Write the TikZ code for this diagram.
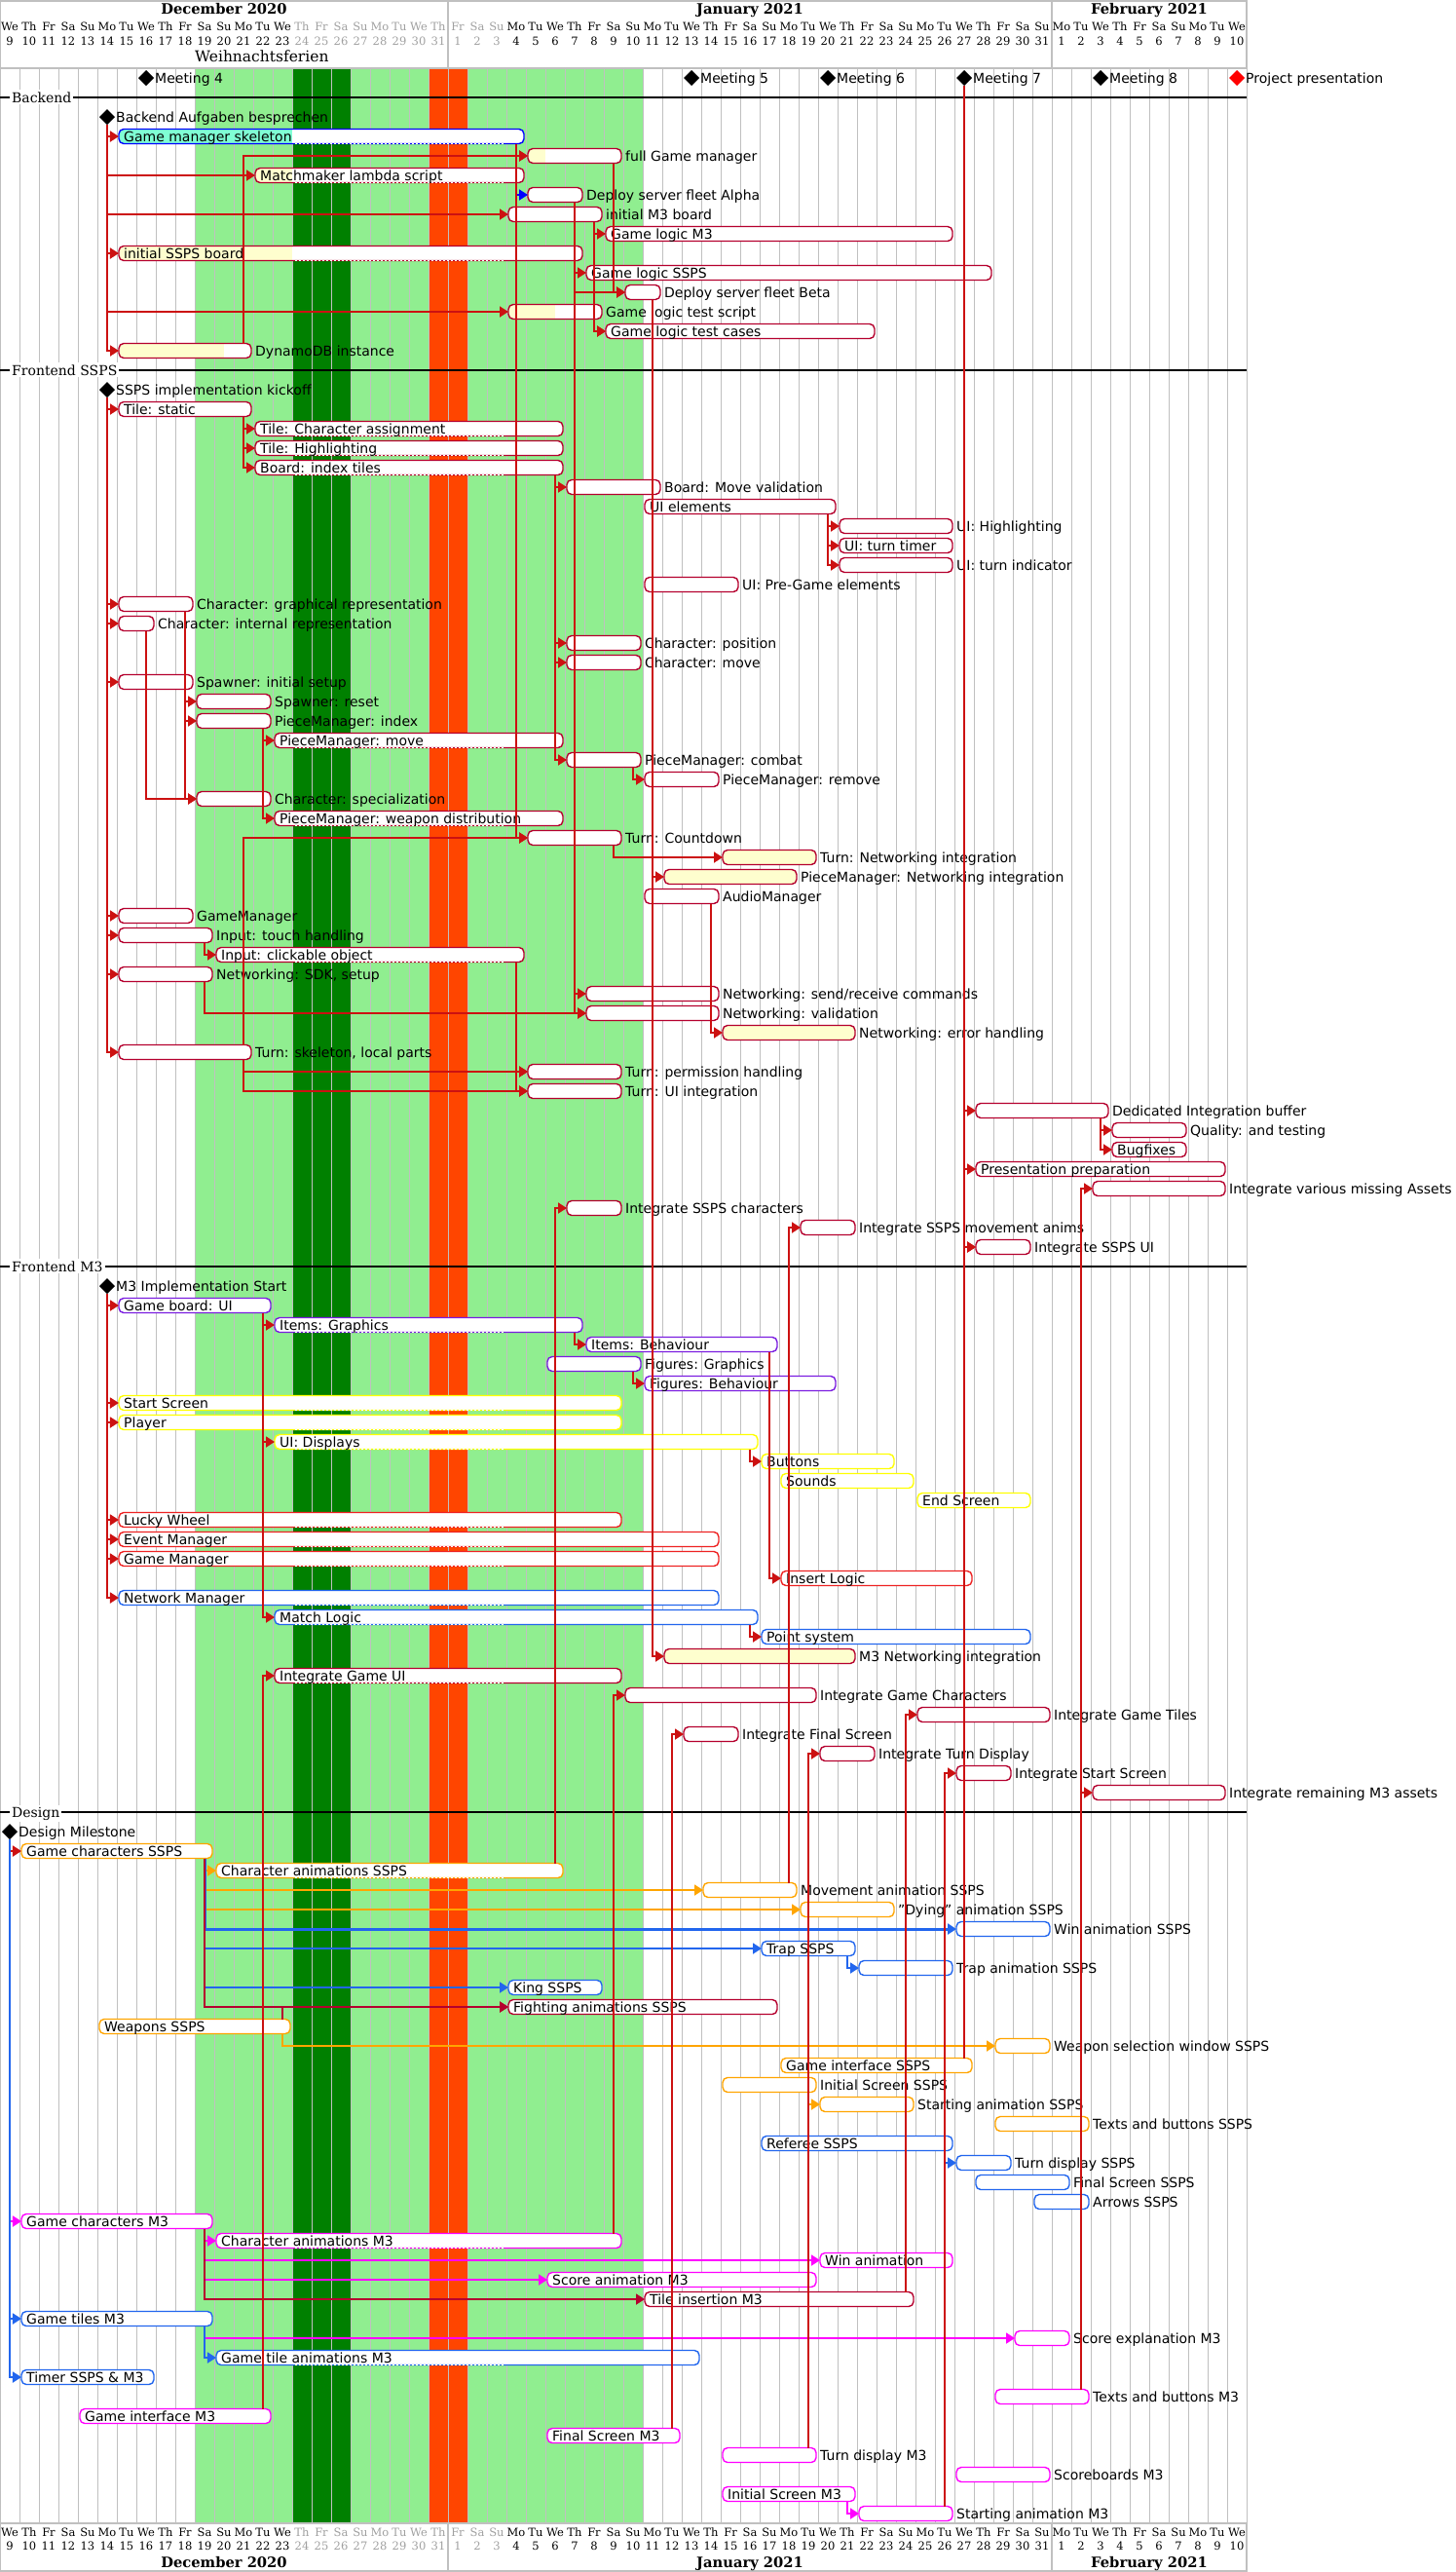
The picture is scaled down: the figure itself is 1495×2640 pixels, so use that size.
\documentclass[tikz,border=0pt]{standalone}
\usepackage{fontspec}
\setmainfont{DejaVu Sans}
\newfontfamily\serifhd{DejaVu Serif}
\usetikzlibrary{arrows.meta,shapes.geometric}
\definecolor{lgreen}{HTML}{90EE90}
\definecolor{dgreen}{HTML}{008000}
\definecolor{ored}{HTML}{FF4500}
\definecolor{gridc}{HTML}{C0C0C0}
\definecolor{hgray}{HTML}{A0A0A0}
\definecolor{barred}{HTML}{B5002E}
\definecolor{arrred}{HTML}{CC1111}
\definecolor{pfill}{HTML}{FEFECE}
\definecolor{aqua}{HTML}{7FFFD4}
\definecolor{pblue}{HTML}{0000FF}
\definecolor{mblue}{HTML}{2266EE}
\definecolor{purp}{HTML}{7A1CE0}
\definecolor{yel}{HTML}{FFFF00}
\definecolor{mred}{HTML}{EE2222}
\definecolor{orng}{HTML}{FFA500}
\definecolor{mag}{HTML}{FF00FF}
\tikzset{
  lbl/.style={anchor=base west, inner sep=0pt, font=\fontsize{14bp}{16bp}\selectfont},
  hdr/.style={anchor=base, inner sep=0pt, font=\serifhd\fontsize{11.5bp}{13bp}\selectfont},
  mon/.style={anchor=base, inner sep=0pt, font=\serifhd\bfseries\fontsize{14.7bp}{16bp}\selectfont},
  seclbl/.style={anchor=base west, inner sep=2bp, fill=white, font=\serifhd\fontsize{14bp}{16bp}\selectfont},
  secline/.style={black, line width=1.5bp},
  dep/.style={draw=arrred, line width=1.8bp, -{Triangle[length=9bp,width=11bp]}}
}
\newcommand\wdname[1]{\ifcase#1 We\or Th\or Fr\or Sa\or Su\or Mo\or Tu\fi}
\newcommand\gtaskp[9]{%
  \pgfmathsetmacro\gy{80+20*#2}%
  \pgfmathsetmacro\gxa{#3+2}%
  \pgfmathsetmacro\gxb{#4-2}%
  \pgfmathsetmacro\gxc{(#3+#4)/2}%
  \pgfmathsetmacro\gw{#4-#3-4}%
  \fill[white, rounded corners=5bp] (\gxa,\gy-7.5) rectangle (\gxb,\gy+7.5);
  \ifdim #8pt>0pt
    \begin{scope}
      \clip[rounded corners=5bp] (\gxa,\gy-7.5) rectangle (\gxb,\gy+7.5);
      \fill[#9] (\gxa,\gy-7.5) rectangle (#8,\gy+7.5);
    \end{scope}
  \fi
  \node[draw=#5, rounded corners=5bp, line width=1.4bp, minimum width=\gw bp, minimum height=15bp, inner sep=0pt, outer sep=0pt] (#1) at (\gxc,\gy) {};
  \if#6c
    \draw[white, line width=1.7bp] (301,\gy+7.5) -- (519,\gy+7.5);
    \draw[#5, line width=1.4bp, dash pattern=on 2bp off 2bp] (301,\gy+7.5) -- (519,\gy+7.5);
  \fi
  \if#6o
    \node[lbl] at (#4+2,\gy+5) {#7};
  \else
    \node[lbl] at (\gxa+5,\gy+5) {#7};
  \fi
}
\newcommand\gtask[7]{\gtaskp{#1}{#2}{#3}{#4}{#5}{#6}{#7}{0}{white}}
\newcommand\gmile[5][black]{%
  \pgfmathsetmacro\gy{80+20*#4}%
  \node[diamond, aspect=1, fill=#1, inner sep=0pt, outer sep=0pt, minimum size=16bp] (#2) at (#3,\gy) {};
  \node[lbl] at (#3+9,\gy+5) {#5};
}
\newcommand\cdn[3][]{\draw[dep,#1] ([xshift=-8bp]#2.south east) |- (#3.west);}
\newcommand\cupp[3][]{\draw[dep,#1] ([xshift=-8bp]#2.north east) |- (#3.west);}
\newcommand\cms[3][]{\draw[dep,#1] (#2.south) |- (#3.west);}
\begin{document}
\begin{tikzpicture}[x=1bp,y=-1bp]
\useasboundingbox (0,0) rectangle (1495,2640);
\fill[white] (0,0) rectangle (1495,2640);
% background bands
\fill[lgreen] (200,70) rectangle (660,2590);
\fill[dgreen] (300,70) rectangle (360,2590);
\fill[ored] (440,70) rectangle (480,2590);
\foreach \d in {0,...,64} \draw[gridc, line width=1bp] (20*\d,70) -- (20*\d,2590);
% header frames
\draw[gridc, line width=1.5bp] (0,1) -- (1280,1);
\draw[gridc, line width=1.5bp] (0,70) -- (1280,70);
\draw[gridc, line width=1.5bp] (0,2590) -- (1280,2590);
\draw[gridc, line width=1.5bp] (0,2639) -- (1280,2639);
\foreach \xx in {0,460,1080,1280} {
  \draw[gridc, line width=1.5bp] (\xx,0) -- (\xx,70);
  \draw[gridc, line width=1.5bp] (\xx,2590) -- (\xx,2640);
}
\foreach \d in {0,...,63}{%
  \pgfmathtruncatemacro\dnum{\d<23 ? \d+9 : (\d<54 ? \d-22 : \d-53)}%
  \pgfmathtruncatemacro\wdi{mod(\d,7)}%
  \ifnum\d>14 \ifnum\d<26 \def\hcol{hgray}\else\def\hcol{black}\fi\else\def\hcol{black}\fi
  \node[hdr, text=\hcol] at (20*\d+10,31.5) {\wdname{\wdi}};
  \node[hdr, text=\hcol] at (20*\d+10,46.5) {\dnum};
  \node[hdr, text=\hcol] at (20*\d+10,2603) {\wdname{\wdi}};
  \node[hdr, text=\hcol] at (20*\d+10,2617) {\dnum};
}
\node[mon] at (230,14) {December 2020};
\node[mon] at (770,14) {January 2021};
\node[mon] at (1180,14) {February 2021};
\node[mon] at (230,2635) {December 2020};
\node[mon] at (770,2635) {January 2021};
\node[mon] at (1180,2635) {February 2021};
\node[anchor=base west, inner sep=0pt, font=\serifhd\fontsize{15.5bp}{17bp}\selectfont] at (200,63) {Weihnachtsferien};
% meetings
\gmile{m4}{150}{0}{Meeting 4}
\gmile{m5}{710}{0}{Meeting 5}
\gmile{m6}{850}{0}{Meeting 6}
\gmile{m7}{990}{0}{Meeting 7}
\gmile{m8}{1130}{0}{Meeting 8}
\gmile[red]{mpp}{1270}{0}{Project presentation}
% section lines
\draw[secline] (0,100) -- (1280,100);
\node[seclbl] at (10,105) {Backend};
\draw[secline] (0,380) -- (1280,380);
\node[seclbl] at (10,385) {Frontend SSPS};
\draw[secline] (0,1300) -- (1280,1300);
\node[seclbl] at (10,1305) {Frontend M3};
\draw[secline] (0,1860) -- (1280,1860);
\node[seclbl] at (10,1865) {Design};
% ---------------- Backend
\gmile{mBack}{110}{2}{Backend Aufgaben besprechen}
\gtaskp{gms}{3}{120}{540}{pblue}{c}{Game manager skeleton}{300}{aqua}
\gtaskp{fgm}{4}{540}{640}{barred}{o}{full Game manager}{560}{pfill}
\gtaskp{mm}{5}{260}{540}{barred}{c}{Matchmaker lambda script}{300}{pfill}
\gtask{dsa}{6}{540}{600}{barred}{o}{Deploy server fleet Alpha}
\gtask{im3}{7}{520}{620}{barred}{o}{initial M3 board}
\gtask{glm3}{8}{620}{980}{barred}{i}{Game logic M3}
\gtaskp{issps}{9}{120}{600}{barred}{c}{initial SSPS board}{300}{pfill}
\gtask{glssps}{10}{600}{1020}{barred}{i}{Game logic SSPS}
\gtask{dsb}{11}{640}{680}{barred}{o}{Deploy server fleet Beta}
\gtaskp{glts}{12}{520}{620}{barred}{o}{Game logic test script}{570}{pfill}
\gtask{gltc}{13}{620}{900}{barred}{i}{Game logic test cases}
\gtaskp{ddb}{14}{120}{260}{barred}{o}{DynamoDB instance}{230}{pfill}
% ---------------- Frontend SSPS
\gmile{mSSPS}{110}{16}{SSPS implementation kickoff}
\gtask{ts}{17}{120}{260}{barred}{i}{Tile: static}
\gtask{tca}{18}{260}{580}{barred}{c}{Tile: Character assignment}
\gtask{th}{19}{260}{580}{barred}{c}{Tile: Highlighting}
\gtask{bit}{20}{260}{580}{barred}{c}{Board: index tiles}
\gtask{bmv}{21}{580}{680}{barred}{o}{Board: Move validation}
\gtask{uie}{22}{660}{860}{barred}{i}{UI elements}
\gtask{uih}{23}{860}{980}{barred}{o}{UI: Highlighting}
\gtask{uitt}{24}{860}{980}{barred}{i}{UI: turn timer}
\gtask{uiti}{25}{860}{980}{barred}{o}{UI: turn indicator}
\gtask{uipg}{26}{660}{760}{barred}{o}{UI: Pre-Game elements}
\gtask{cgr}{27}{120}{200}{barred}{o}{Character: graphical representation}
\gtask{cir}{28}{120}{160}{barred}{o}{Character: internal representation}
\gtask{cpos}{29}{580}{660}{barred}{o}{Character: position}
\gtask{cmove}{30}{580}{660}{barred}{o}{Character: move}
\gtask{spi}{31}{120}{200}{barred}{o}{Spawner: initial setup}
\gtask{spr}{32}{200}{280}{barred}{o}{Spawner: reset}
\gtask{pmi}{33}{200}{280}{barred}{o}{PieceManager: index}
\gtask{pmm}{34}{280}{580}{barred}{c}{PieceManager: move}
\gtask{pmc}{35}{580}{660}{barred}{o}{PieceManager: combat}
\gtask{pmr}{36}{660}{740}{barred}{o}{PieceManager: remove}
\gtask{cspec}{37}{200}{280}{barred}{o}{Character: specialization}
\gtask{pmwd}{38}{280}{580}{barred}{c}{PieceManager: weapon distribution}
\gtask{tcd}{39}{540}{640}{barred}{o}{Turn: Countdown}
\gtaskp{tni}{40}{740}{840}{barred}{o}{Turn: Networking integration}{840}{pfill}
\gtaskp{pmni}{41}{680}{820}{barred}{o}{PieceManager: Networking integration}{820}{pfill}
\gtask{am}{42}{660}{740}{barred}{o}{AudioManager}
\gtask{gm}{43}{120}{200}{barred}{o}{GameManager}
\gtask{ith}{44}{120}{220}{barred}{o}{Input: touch handling}
\gtask{ico}{45}{220}{540}{barred}{c}{Input: clickable object}
\gtask{nsdk}{46}{120}{220}{barred}{o}{Networking: SDK, setup}
\gtask{nsr}{47}{600}{740}{barred}{o}{Networking: send/receive commands}
\gtask{nval}{48}{600}{740}{barred}{o}{Networking: validation}
\gtaskp{neh}{49}{740}{880}{barred}{o}{Networking: error handling}{880}{pfill}
\gtask{tsk}{50}{120}{260}{barred}{o}{Turn: skeleton, local parts}
\gtask{tph}{51}{540}{640}{barred}{o}{Turn: permission handling}
\gtask{tui}{52}{540}{640}{barred}{o}{Turn: UI integration}
\gtask{dib}{53}{1000}{1140}{barred}{o}{Dedicated Integration buffer}
\gtask{qat}{54}{1140}{1220}{barred}{o}{Quality: and testing}
\gtask{bug}{55}{1140}{1220}{barred}{i}{Bugfixes}
\gtask{pp}{56}{1000}{1260}{barred}{i}{Presentation preparation}
\gtask{ivma}{57}{1120}{1260}{barred}{o}{Integrate various missing Assets}
\gtask{isc}{58}{580}{640}{barred}{o}{Integrate SSPS characters}
\gtask{isma}{59}{820}{880}{barred}{o}{Integrate SSPS movement anims}
\gtask{isui}{60}{1000}{1060}{barred}{o}{Integrate SSPS UI}
% ---------------- Frontend M3
\gmile{mM3}{110}{62}{M3 Implementation Start}
\gtask{gbui}{63}{120}{280}{purp}{i}{Game board: UI}
\gtask{igr}{64}{280}{600}{purp}{c}{Items: Graphics}
\gtask{ibe}{65}{600}{800}{purp}{i}{Items: Behaviour}
\gtask{fgr}{66}{560}{660}{purp}{o}{Figures: Graphics}
\gtask{fbe}{67}{660}{860}{purp}{i}{Figures: Behaviour}
\gtask{ss}{68}{120}{640}{yel}{c}{Start Screen}
\gtask{pl}{69}{120}{640}{yel}{c}{Player}
\gtask{uid}{70}{280}{780}{yel}{c}{UI: Displays}
\gtask{btn}{71}{780}{920}{yel}{i}{Buttons}
\gtask{snd}{72}{800}{940}{yel}{i}{Sounds}
\gtask{es}{73}{940}{1060}{yel}{i}{End Screen}
\gtask{lw}{74}{120}{640}{mred}{c}{Lucky Wheel}
\gtask{em}{75}{120}{740}{mred}{c}{Event Manager}
\gtask{gmm}{76}{120}{740}{mred}{c}{Game Manager}
\gtask{il}{77}{800}{1000}{mred}{i}{Insert Logic}
\gtask{nm}{78}{120}{740}{mblue}{c}{Network Manager}
\gtask{ml}{79}{280}{780}{mblue}{c}{Match Logic}
\gtask{ps}{80}{780}{1060}{mblue}{i}{Point system}
\gtaskp{m3ni}{81}{680}{880}{barred}{o}{M3 Networking integration}{880}{pfill}
\gtask{igui}{82}{280}{640}{barred}{c}{Integrate Game UI}
\gtask{igc}{83}{640}{840}{barred}{o}{Integrate Game Characters}
\gtask{igt}{84}{940}{1080}{barred}{o}{Integrate Game Tiles}
\gtask{ifs}{85}{700}{760}{barred}{o}{Integrate Final Screen}
\gtask{itd}{86}{840}{900}{barred}{o}{Integrate Turn Display}
\gtask{iss}{87}{980}{1040}{barred}{o}{Integrate Start Screen}
\gtask{irm3}{88}{1120}{1260}{barred}{o}{Integrate remaining M3 assets}
% ---------------- Design
\gmile{mDes}{10}{90}{Design Milestone}
\gtask{gcs}{91}{20}{220}{orng}{i}{Game characters SSPS}
\gtask{cas}{92}{220}{580}{orng}{c}{Character animations SSPS}
\gtask{mas}{93}{720}{820}{orng}{o}{Movement animation SSPS}
\gtask{das}{94}{820}{920}{orng}{o}{"Dying" animation SSPS}
\gtask{was}{95}{980}{1080}{mblue}{o}{Win animation SSPS}
\gtask{trs}{96}{780}{880}{mblue}{i}{Trap SSPS}
\gtask{tas}{97}{880}{980}{mblue}{o}{Trap animation SSPS}
\gtask{ks}{98}{520}{620}{mblue}{i}{King SSPS}
\gtask{fas}{99}{520}{800}{barred}{i}{Fighting animations SSPS}
\gtask{ws}{100}{100}{300}{orng}{i}{Weapons SSPS}
\gtask{wsw}{101}{1020}{1080}{orng}{o}{Weapon selection window SSPS}
\gtask{gis}{102}{800}{1000}{orng}{i}{Game interface SSPS}
\gtask{iscs}{103}{740}{840}{orng}{o}{Initial Screen SSPS}
\gtask{sas}{104}{840}{940}{orng}{o}{Starting animation SSPS}
\gtask{tbs}{105}{1020}{1120}{orng}{o}{Texts and buttons SSPS}
\gtask{rs}{106}{780}{980}{mblue}{i}{Referee SSPS}
\gtask{tds}{107}{980}{1040}{mblue}{o}{Turn display SSPS}
\gtask{fss}{108}{1000}{1100}{mblue}{o}{Final Screen SSPS}
\gtask{ars}{109}{1060}{1120}{mblue}{o}{Arrows SSPS}
\gtask{gcm}{110}{20}{220}{mag}{i}{Game characters M3}
\gtask{cam3}{111}{220}{640}{mag}{c}{Character animations M3}
\gtask{wam}{112}{840}{980}{mag}{i}{Win animation}
\gtask{sam}{113}{560}{840}{mag}{i}{Score animation M3}
\gtask{tim3}{114}{660}{940}{barred}{i}{Tile insertion M3}
\gtask{gtm}{115}{20}{220}{mblue}{i}{Game tiles M3}
\gtask{sem}{116}{1040}{1100}{mag}{o}{Score explanation M3}
\gtask{gtam}{117}{220}{720}{mblue}{c}{Game tile animations M3}
\gtask{tsm}{118}{20}{160}{mblue}{i}{Timer SSPS \& M3}
\gtask{tbm3}{119}{1020}{1120}{mag}{o}{Texts and buttons M3}
\gtask{gim3}{120}{80}{280}{mag}{i}{Game interface M3}
\gtask{fsm3}{121}{560}{700}{mag}{i}{Final Screen M3}
\gtask{tdm3}{122}{740}{840}{mag}{o}{Turn display M3}
\gtask{sbm3}{123}{980}{1080}{mag}{o}{Scoreboards M3}
\gtask{ism3}{124}{740}{880}{mag}{i}{Initial Screen M3}
\gtask{sam3}{125}{880}{980}{mag}{o}{Starting animation M3}
% ================= connectors
% Backend
\cdn[draw=pblue]{gms}{dsa}
\cms{mBack}{gms} \cms{mBack}{mm} \cms{mBack}{im3} \cms{mBack}{issps} \cms{mBack}{glts} \cms{mBack}{ddb}
\cdn{gms}{fgm} \cupp{ddb}{fgm} \cdn{im3}{glm3} \cdn{im3}{gltc} \cdn{issps}{glssps}
\cdn{dsa}{dsb} \cdn{fgm}{dsb} \cdn{glts}{gltc} \cdn{gms}{tcd}
% Frontend SSPS
\cms{mSSPS}{ts} \cms{mSSPS}{cgr} \cms{mSSPS}{cir} \cms{mSSPS}{spi} \cms{mSSPS}{gm} \cms{mSSPS}{ith} \cms{mSSPS}{nsdk} \cms{mSSPS}{tsk}
\cdn{ts}{tca} \cdn{ts}{th} \cdn{ts}{bit}
\cdn{bit}{bmv} \cdn{bit}{cpos} \cdn{bit}{cmove} \cdn{bit}{pmc}
\cdn{uie}{uih} \cdn{uie}{uitt} \cdn{uie}{uiti}
\cdn{cgr}{spr} \cdn{cgr}{pmi} \cdn{cgr}{cspec} \cdn{cir}{cspec}
\cdn{pmi}{pmm} \cdn{pmi}{pmwd} \cdn{pmc}{pmr}
\cupp{tsk}{tcd} \cdn{tsk}{tph} \cdn{tsk}{tui}
\cdn{ico}{tph} \cdn{ico}{tui} \cdn{tcd}{tni}
\cdn{dsb}{pmni} \cdn{dsb}{m3ni} \cdn{am}{neh}
\cdn{ith}{ico} \cdn{nsdk}{nval} \cdn{dsa}{nsr} \cdn{dsa}{nval}
\cms{m7}{dib} \cms{m7}{pp} \cms{m7}{isui}
\cdn{dib}{qat} \cdn{dib}{bug}
% Frontend M3
\cms{mM3}{gbui} \cms{mM3}{ss} \cms{mM3}{pl} \cms{mM3}{lw} \cms{mM3}{em} \cms{mM3}{gmm} \cms{mM3}{nm}
\cdn{gbui}{igr} \cdn{gbui}{uid} \cdn{gbui}{ml}
\cdn{igr}{ibe} \cdn{fgr}{fbe} \cdn{uid}{btn} \cdn{ibe}{il} \cdn{ml}{ps}
% Design
\cms{mDes}{gcs} \cms[draw=mag]{mDes}{gcm} \cms[draw=mblue]{mDes}{gtm} \cms[draw=mblue]{mDes}{tsm}
\cdn[draw=orng]{gcs}{cas} \cdn[draw=orng]{gcs}{mas} \cdn[draw=orng]{gcs}{das}
\cdn[draw=mblue, line width=3bp]{gcs}{was} \cdn[draw=mblue]{gcs}{trs} \cdn[draw=mblue]{gcs}{ks}
\cdn[draw=barred]{gcs}{fas}
\cupp[draw=barred]{ws}{fas} \cdn[draw=orng]{ws}{wsw}
\cdn[draw=mblue]{trs}{tas} \cdn[draw=orng]{iscs}{sas} \cdn[draw=mblue]{rs}{tds}
\cdn[draw=mag]{gcm}{cam3} \cdn[draw=mag]{gcm}{wam} \cdn[draw=mag]{gcm}{sam} \cdn[draw=barred]{gcm}{tim3}
\cdn[draw=mag]{gtm}{sem} \cdn[draw=mblue]{gtm}{gtam}
\cdn[draw=mag]{ism3}{sam3}
% upward integration links
\cupp{cas}{isc} \cupp{mas}{isma} \cupp{gis}{isui}
\cupp{tbm3}{ivma} \cupp{tbm3}{irm3}
\cupp{gim3}{igui} \cupp{cam3}{igc} \cupp{tim3}{igt}
\cupp{fsm3}{ifs} \cupp{tdm3}{itd} \cupp{sam3}{iss}
\end{tikzpicture}
\end{document}
